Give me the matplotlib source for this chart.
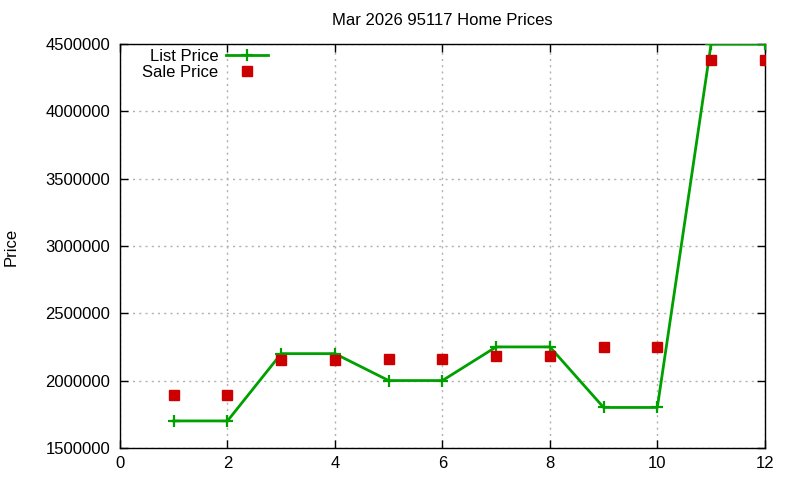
import matplotlib
matplotlib.use('Agg')
import matplotlib.pyplot as plt
from matplotlib.ticker import MultipleLocator, FuncFormatter

# data
months = [1, 2, 3, 4, 5, 6, 7, 8, 9, 10, 11, 12]
list_price = [1700000, 1700000, 2200000, 2200000, 2000000, 2000000,
              2250000, 2250000, 1800000, 1800000, 4500000, 4500000]
sale_price = [1890000, 1890000, 2150000, 2150000, 2163000, 2163000,
              2180000, 2180000, 2248000, 2248000, 4380000, 4380000]

plt.rcParams['font.family'] = ['Liberation Sans', 'DejaVu Sans']
plt.rcParams['font.size'] = 12

GREEN = '#00a000'
RED = '#cc0000'

fig = plt.figure(figsize=(8, 4.8), dpi=100)
ax = fig.add_axes([0.15, 0.067, 0.806, 0.841])

ax.plot(months, list_price, color=GREEN, lw=2, marker='+', ms=9, mew=1.6,
        label='List Price', zorder=3)
ax.plot(months, sale_price, ls='none', marker='s', ms=7, color=RED,
        mec=RED, label='Sale Price', zorder=4)

ax.set_xlim(0, 12)
ax.set_ylim(1500000, 4500000)
ax.xaxis.set_major_locator(MultipleLocator(2))
ax.yaxis.set_major_locator(MultipleLocator(500000))
ax.yaxis.set_major_formatter(FuncFormatter(lambda v, p: '%d' % v))

ax.tick_params(direction='in', top=True, right=True, length=6, width=1,
               labelsize=12)
ax.tick_params(axis='y', pad=7)
ax.tick_params(axis='x', pad=6)
ax.grid(True, color='#b0b0b0', ls=(0, (1.5, 3)), lw=1)
for s in ax.spines.values():
    s.set_linewidth(1)

ax.set_title('Mar 2026 95117 Home Prices', fontsize=12, pad=14)
ax.set_ylabel('Price', fontsize=12)
# gnuplot puts the label close to the left edge
ax.yaxis.set_label_coords(19 / 800, 1 - 247 / 480, transform=fig.transFigure)

leg = ax.legend(loc='upper right', bbox_to_anchor=(268 / 800, 1 - 49 / 480),
                bbox_transform=fig.transFigure, frameon=False,
                markerfirst=False, handlelength=2.5, handletextpad=0.48,
                labelspacing=0.05, borderaxespad=0, borderpad=0, fontsize=12)

fig.savefig('out.png', dpi=100)
